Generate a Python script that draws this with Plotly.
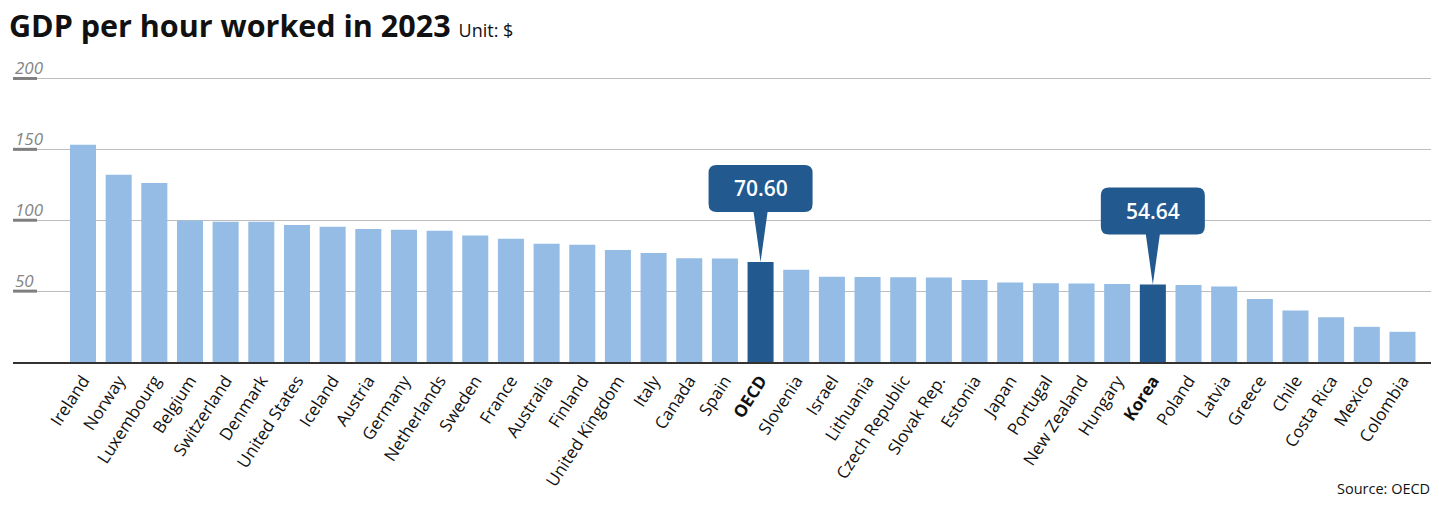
import plotly.graph_objects as go

countries = ["Ireland", "Norway", "Luxembourg", "Belgium", "Switzerland", "Denmark",
             "United States", "Iceland", "Austria", "Germany", "Netherlands", "Sweden",
             "France", "Australia", "Finland", "United Kingdom", "Italy", "Canada", "Spain",
             "OECD", "Slovenia", "Israel", "Lithuania", "Czech Republic", "Slovak Rep.",
             "Estonia", "Japan", "Portugal", "New Zealand", "Hungary", "Korea", "Poland",
             "Latvia", "Greece", "Chile", "Costa Rica", "Mexico", "Colombia"]
gdp_per_hour = [153.2, 132.0, 126.2, 99.9, 98.9, 98.9,
                96.6, 95.4, 93.8, 93.3, 92.6, 89.3,
                87.0, 83.5, 82.7, 79.0, 76.9, 73.1, 73.0,
                70.60, 65.1, 60.2, 60.0, 59.7, 59.6,
                57.8, 56.1, 55.6, 55.4, 55.0, 54.64, 54.3,
                53.3, 44.5, 36.3, 31.5, 24.8, 21.3]
highlighted = ["OECD", "Korea"]
y_ticks = [50, 100, 150, 200]

LIGHT = "#94bce5"
DARK = "#22598f"
FONT = "Open Sans"

colors = [DARK if c in highlighted else LIGHT for c in countries]
ticktext = [f"<b>{c}</b>" if c in highlighted else c for c in countries]

fig = go.Figure(go.Bar(
    x=countries, y=gdp_per_hour, marker=dict(color=colors, line=dict(width=0)),
    width=0.73, hoverinfo="x+y",
))

W, H = 1425, 490
L, R, T, B = 5, 2, 52, 135.5
plot_w = W - L - R
plot_h = H - T - B

shapes = []
annotations = []
for v in y_ticks:
    shapes.append(dict(type="line", xref="paper", yref="y", x0=0, x1=24 / plot_w,
                       y0=v, y1=v, line=dict(color="#7f7f7f", width=3)))
    annotations.append(dict(xref="paper", yref="y", x=0, y=v, xanchor="left",
                            yanchor="bottom", yshift=-3, showarrow=False,
                            text=f"<i>{v}</i>",
                            font=dict(family=FONT, size=17, color="#858585")))

# callouts
box_w, box_b, box_t, r, tip_half = 104, 50, 97, 8, 7
hw = box_w / 2
path = (f"M 0 0 L {tip_half} {box_b} L {hw - r} {box_b} Q {hw} {box_b} {hw} {box_b + r} "
        f"L {hw} {box_t - r} Q {hw} {box_t} {hw - r} {box_t} "
        f"L {-hw + r} {box_t} Q {-hw} {box_t} {-hw} {box_t - r} "
        f"L {-hw} {box_b + r} Q {-hw} {box_b} {-hw + r} {box_b} "
        f"L {-tip_half} {box_b} Z")
for c in highlighted:
    v = gdp_per_hour[countries.index(c)]
    shapes.append(dict(type="path", xref="x", yref="y", xsizemode="pixel",
                       ysizemode="pixel", xanchor=c, yanchor=v, path=path,
                       fillcolor=DARK, line=dict(width=0), layer="above"))
    annotations.append(dict(xref="x", yref="y", x=c, y=v, yshift=(box_b + box_t) / 2,
                            text=f"{v:.2f}", showarrow=False, xanchor="center",
                            yanchor="middle",
                            font=dict(family=FONT, size=21, color="white", weight=600)))

annotations.append(dict(xref="paper", yref="paper", x=(1424 - L) / plot_w,
                        y=(H - B - 481) / plot_h, xanchor="right", yanchor="middle",
                        text="Source: OECD", showarrow=False,
                        font=dict(family=FONT, size=14.5, color="#111")))

fig.update_layout(
    width=W, height=H,
    margin=dict(l=L, r=R, t=T, b=B, pad=0),
    paper_bgcolor="white", plot_bgcolor="white",
    title=dict(text="<b>GDP per hour worked in 2023</b> <span style='font-size:18px'>Unit: $</span>",
               x=1 / W, xanchor="left", xref="container", y=1 - 18 / H, yanchor="middle",
               font=dict(family=FONT, size=30.5, color="#111")),
    xaxis=dict(type="category", range=[-1.963, 37.8], tickangle=-57,
               tickmode="array", tickvals=countries, ticktext=ticktext,
               tickfont=dict(family=FONT, size=17, color="#111"),
               showline=True, linecolor="#333", linewidth=2, ticks="",
               showgrid=False, fixedrange=True),
    yaxis=dict(range=[0, plot_h / 1.42], tickvals=y_ticks, showticklabels=False,
               showgrid=True, gridcolor="#bdbdbd", gridwidth=1, zeroline=False,
               fixedrange=True),
    shapes=shapes, annotations=annotations, showlegend=False, bargap=0.27,
)

fig.write_html("out.html")
